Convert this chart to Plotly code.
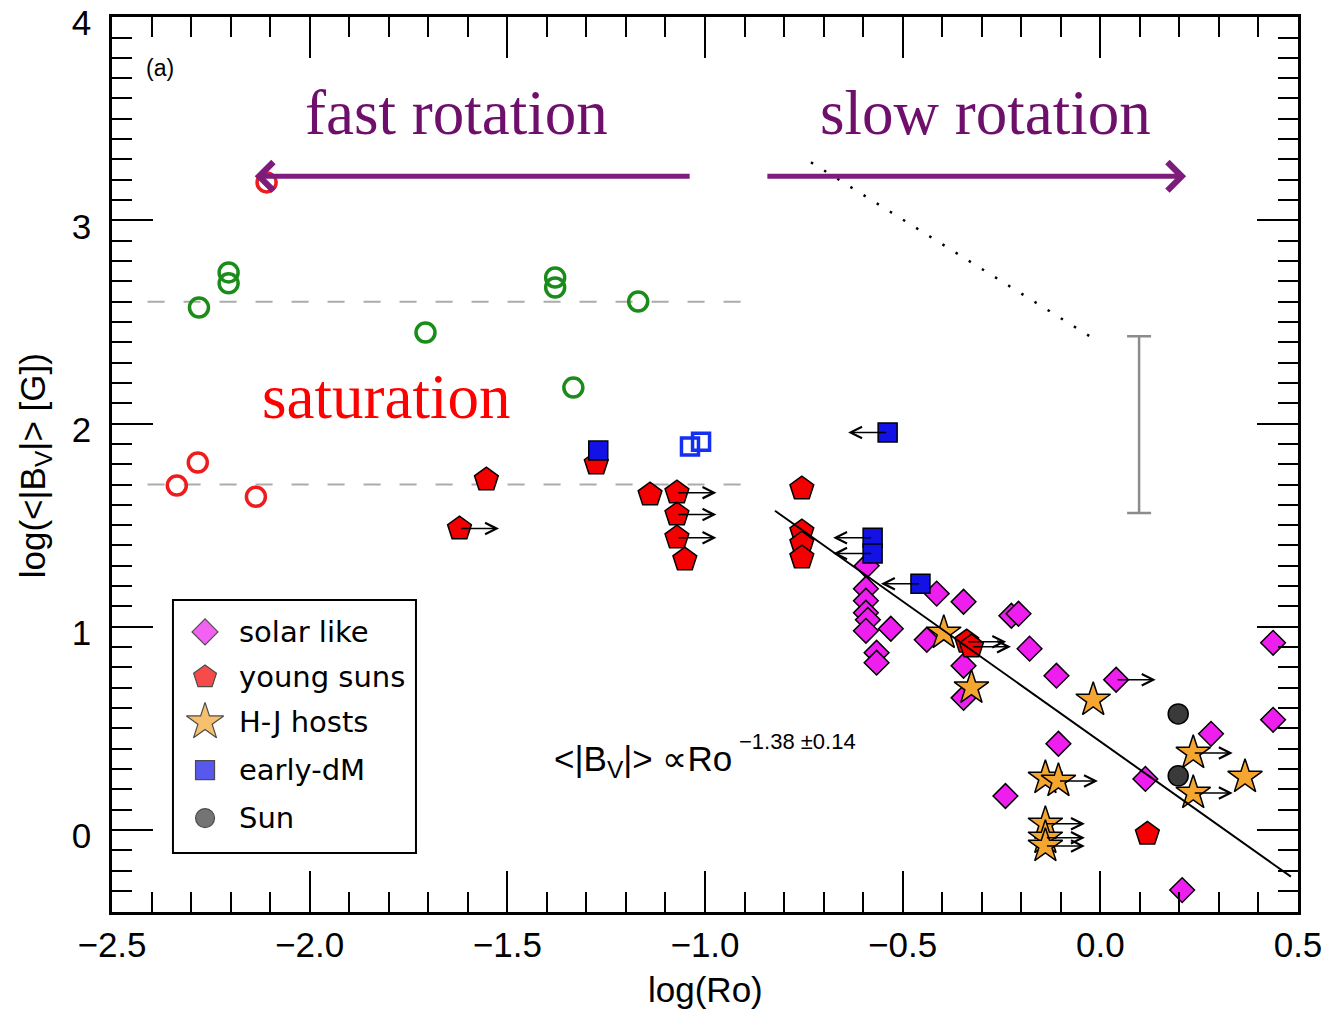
import plotly.graph_objects as go

# ---------------- data: log(Ro) vs log(<|B_V|>) ----------------
# limit flags: +1 -> lower limit on Ro (arrow to the right), -1 -> upper limit (arrow to the left)

solar_x = [-0.591, -0.593, -0.593, -0.593, -0.588, -0.593, -0.530, -0.566, -0.566,
           -0.414, -0.346, -0.225, -0.207, -0.439, -0.346, -0.346, -0.179, -0.111,
           0.040, -0.106, -0.240, 0.114, 0.280, 0.437, 0.437, 0.207]
solar_y = [1.300, 1.187, 1.128, 1.069, 1.034, 0.980, 0.990, 0.872, 0.823,
           1.163, 1.123, 1.054, 1.064, 0.936, 0.808, 0.650, 0.892, 0.759,
           0.739, 0.424, 0.167, 0.251, 0.473, 0.921, 0.542, -0.296]
solar_lim = [0, 0, 0, 0, 0, 0, 0, 0, 0,
             0, 0, 0, 0, 0, 0, 0, 0, 0,
             1, 0, 0, 0, 0, 0, 0, 0]

young_x = [-1.553, -1.621, -1.275, -1.139, -1.071, -1.071, -1.071, -1.051,
           -0.755, -0.755, -0.755, -0.755, -0.338, -0.326, 0.119]
young_y = [1.724, 1.483, 1.803, 1.650, 1.660, 1.552, 1.438, 1.330,
           1.680, 1.468, 1.409, 1.340, 0.926, 0.902, -0.020]
young_lim = [0, 1, 0, 0, 1, 1, 1, 0,
             0, 0, 0, 0, 1, 1, 0]

hj_x = [-0.396, -0.326, -0.018, -0.139, -0.106, -0.139, -0.139, -0.139, 0.235, 0.235, 0.366]
hj_y = [0.970, 0.700, 0.640, 0.256, 0.241, 0.030, -0.039, -0.079, 0.379, 0.182, 0.261]
hj_lim = [0, 0, 0, 0, 1, 1, 1, 1, 1, 1, 0]

dm_x = [-1.270, -0.538, -0.576, -0.576, -0.455]
dm_y = [1.867, 1.956, 1.438, 1.360, 1.212]
dm_lim = [0, -1, -1, -1, -1]

sun_x = [0.197, 0.197]
sun_y = [0.571, 0.266]

# fully convective / saturated samples (open symbols)
green_x = [-2.280, -2.205, -2.205, -1.707, -1.379, -1.379, -1.169, -1.333]
green_y = [2.571, 2.744, 2.690, 2.448, 2.719, 2.670, 2.601, 2.177]
redopen_x = [-2.109, -2.336, -2.283, -2.136]
redopen_y = [3.187, 1.695, 1.808, 1.640]
blueopen_x = [-1.038, -1.010]
blueopen_y = [1.887, 1.911]

# power-law fit <|B_V|> ∝ Ro^-1.38
fit_slope = -1.38
fit_intercept = 0.435
fit_x = [-0.823, 0.482]

# dotted reference relation
dotted_x = [-0.732, -0.018]
dotted_y = [3.286, 2.419]

# saturation levels
sat_levels = [2.6, 1.7]
sat_x = [-2.41, -0.91]

# typical uncertainty
err_x = [0.098]
err_y = [1.995]
err_size = [0.435]

legend_labels = ["solar like", "young suns", "H-J hosts", "early-dM", "Sun"]

X_RANGE = [-2.5, 0.5]
Y_RANGE = [-0.404, 4.001]
ARROW_LEN = 0.1

C_MAG = "#EE1FEE"
C_RED = "#F40000"
C_ORA = "#F5A631"
C_BLU = "#1212E6"
C_SUN = "#3a3a3a"
C_GRN = "#1A8C1A"
C_ROP = "#EE1C1C"
C_BOP = "#1530F0"
PURPLE = "#6E0F6C"
PURPLE_ARROW = "#7D1C7A"

fig = go.Figure()

# saturation lines
for lvl in sat_levels:
    fig.add_trace(go.Scatter(x=sat_x, y=[lvl, lvl], mode="lines",
                             line=dict(color="#ababab", width=2, dash="17px,19px"),
                             hoverinfo="skip", showlegend=False))

# dotted relation
fig.add_trace(go.Scatter(x=dotted_x, y=dotted_y, mode="lines",
                         line=dict(color="black", width=2.5, dash="2.5px,13px"),
                         hoverinfo="skip", showlegend=False))

# typical error bar
fig.add_trace(go.Scatter(x=err_x, y=err_y, mode="markers",
                         marker=dict(size=1, color="rgba(0,0,0,0)"),
                         error_y=dict(type="data", array=err_size, color="#8c8c8c",
                                      thickness=2.5, width=12),
                         hoverinfo="skip", showlegend=False))

# open symbols
fig.add_trace(go.Scatter(x=green_x, y=green_y, mode="markers",
                         marker=dict(symbol="circle-open", size=19, color=C_GRN,
                                     line=dict(width=3.5, color=C_GRN)),
                         showlegend=False))
fig.add_trace(go.Scatter(x=redopen_x, y=redopen_y, mode="markers",
                         marker=dict(symbol="circle-open", size=19, color=C_ROP,
                                     line=dict(width=3.5, color=C_ROP)),
                         showlegend=False))
fig.add_trace(go.Scatter(x=blueopen_x, y=blueopen_y, mode="markers",
                         marker=dict(symbol="square-open", size=17, color=C_BOP,
                                     line=dict(width=3.5, color=C_BOP)),
                         showlegend=False))

edge = dict(color="black", width=1.5)
fig.add_trace(go.Scatter(x=solar_x, y=solar_y, mode="markers", name="solar like",
                         marker=dict(symbol="diamond", size=19, color=C_MAG, line=edge)))
fig.add_trace(go.Scatter(x=young_x, y=young_y, mode="markers", name="young suns",
                         marker=dict(symbol="pentagon", size=25, color=C_RED, line=edge)))
fig.add_trace(go.Scatter(x=hj_x, y=hj_y, mode="markers", name="H-J hosts",
                         marker=dict(symbol="star", size=26, color=C_ORA, line=edge)))
fig.add_trace(go.Scatter(x=dm_x, y=dm_y, mode="markers", name="early-dM",
                         marker=dict(symbol="square", size=19, color=C_BLU, line=edge)))
fig.add_trace(go.Scatter(x=sun_x, y=sun_y, mode="markers", name="Sun",
                         marker=dict(symbol="circle", size=20, color=C_SUN, line=edge)))

# fit line
fig.add_trace(go.Scatter(x=fit_x, y=[fit_intercept + fit_slope * v for v in fit_x],
                         mode="lines", line=dict(color="black", width=2),
                         hoverinfo="skip", showlegend=False))

annotations = []

# limit arrows
for xs, ys, lims in [(solar_x, solar_y, solar_lim), (young_x, young_y, young_lim),
                     (hj_x, hj_y, hj_lim), (dm_x, dm_y, dm_lim)]:
    for xv, yv, lv in zip(xs, ys, lims):
        if lv == 0:
            continue
        annotations.append(dict(x=xv + lv * ARROW_LEN, y=yv, ax=xv, ay=yv,
                                xref="x", yref="y", axref="x", ayref="y",
                                text="", showarrow=True, arrowhead=5,
                                arrowsize=1.5, arrowwidth=1.5, arrowcolor="black"))

# rotation-regime arrows
annotations.append(dict(x=-2.139, y=3.217, ax=-1.035, ay=3.217,
                        xref="x", yref="y", axref="x", ayref="y", text="",
                        showarrow=True, arrowhead=4, arrowsize=1.1, arrowwidth=5,
                        arrowcolor=PURPLE_ARROW))
annotations.append(dict(x=0.217, y=3.217, ax=-0.846, ay=3.217,
                        xref="x", yref="y", axref="x", ayref="y", text="",
                        showarrow=True, arrowhead=4, arrowsize=1.1, arrowwidth=5,
                        arrowcolor=PURPLE_ARROW))

serif = "Liberation Serif, Times New Roman, serif"
sans = "Liberation Sans, Arial, Helvetica, sans-serif"

annotations += [
    dict(x=-1.629, y=3.527, xref="x", yref="y", text="fast rotation", showarrow=False,
         font=dict(family=serif, size=63, color=PURPLE)),
    dict(x=-0.290, y=3.527, xref="x", yref="y", text="slow rotation", showarrow=False,
         font=dict(family=serif, size=63, color=PURPLE)),
    dict(x=-1.808, y=2.13, xref="x", yref="y", text="saturation", showarrow=False,
         font=dict(family=serif, size=63, color="#FF0000")),
    dict(x=-2.379, y=3.749, xref="x", yref="y", text="(a)", showarrow=False,
         font=dict(family=sans, size=23, color="black")),
    dict(x=-0.926, y=0.34, xref="x", yref="y", xanchor="right",
         text="&lt;|B<sub>V</sub>|&gt; \u221dRo", showarrow=False,
         font=dict(family=sans, size=35, color="black")),
    dict(x=-0.919, y=0.433, xref="x", yref="y", xanchor="left",
         text="\u22121.38 \u00b10.14", showarrow=False,
         font=dict(family=sans, size=22, color="black")),
    # axis titles
    dict(x=0.5, y=-0.087, xref="paper", yref="paper", xanchor="center", yanchor="middle",
         text="log(Ro)", showarrow=False,
         font=dict(family=sans, size=35, color="black")),
    dict(x=-0.065, y=0.499, xref="paper", yref="paper", xanchor="center", yanchor="middle",
         textangle=-90, text="log(&lt;|B<sub>V</sub>|&gt; [G])", showarrow=False,
         font=dict(family=sans, size=35, color="black")),
]

# legend panel drawn on its own overlay axes
LEG_DOM_X = [0.0514, 0.2563]
LEG_DOM_Y = [0.0659, 0.3486]
leg_row_y = [0.874, 0.696, 0.518, 0.328, 0.138]
leg_marker_x = 0.132
leg_text_x = 0.265
leg_symbols = ["diamond", "pentagon", "star", "square", "circle"]
leg_colors = [C_MAG, C_RED, C_ORA, C_BLU, C_SUN]
leg_sizes = [20, 24, 28, 19, 19]

fig.add_trace(go.Scatter(x=[leg_marker_x] * len(leg_row_y), y=leg_row_y, mode="markers",
                         xaxis="x2", yaxis="y2",
                         marker=dict(symbol=leg_symbols, size=leg_sizes, color=leg_colors,
                                     line=dict(color="black", width=1.2)),
                         hoverinfo="skip", showlegend=False))
for lbl, yv in zip(legend_labels, leg_row_y):
    annotations.append(dict(x=leg_text_x, y=yv, xref="x2", yref="y2", xanchor="left",
                            text=lbl, showarrow=False,
                            font=dict(family="DejaVu Sans, sans-serif", size=29, color="black")))

shapes = [dict(type="rect", xref="paper", yref="paper",
               x0=LEG_DOM_X[0], x1=LEG_DOM_X[1], y0=LEG_DOM_Y[0], y1=LEG_DOM_Y[1],
               line=dict(color="black", width=2), fillcolor="rgba(0,0,0,0)")]

axis_common = dict(showgrid=False, zeroline=False, showline=True, linecolor="black",
                   linewidth=2.5, ticks="inside", ticklen=41, tickwidth=2,
                   tickcolor="black", mirror="allticks", ticklabeloverflow="allow",
                   automargin=False,
                   tickfont=dict(family=sans, size=35, color="black"))

fig.update_layout(
    width=1327, height=1009,
    margin=dict(l=112, r=29, t=17, b=97),
    paper_bgcolor="white", plot_bgcolor="white",
    showlegend=False,
    xaxis=dict(range=X_RANGE, tick0=-2.5, dtick=0.5, tickformat=".1f",
               minor=dict(dtick=0.1, tick0=-2.5, ticklen=20, tickwidth=2,
                          tickcolor="black", ticks="inside"),
               ticklabelstandoff=0, **axis_common),
    yaxis=dict(range=Y_RANGE, tick0=0, dtick=1, tickformat="d",
               minor=dict(dtick=0.1, tick0=0, ticklen=20, tickwidth=2,
                          tickcolor="black", ticks="inside"),
               ticklabelstandoff=11, ticklabelshift=6, **axis_common),
    xaxis2=dict(domain=LEG_DOM_X, range=[0, 1], anchor="y2", visible=False),
    yaxis2=dict(domain=LEG_DOM_Y, range=[0, 1], anchor="x2", visible=False),
    annotations=annotations,
    shapes=shapes,
)

fig.write_html("out.html")
